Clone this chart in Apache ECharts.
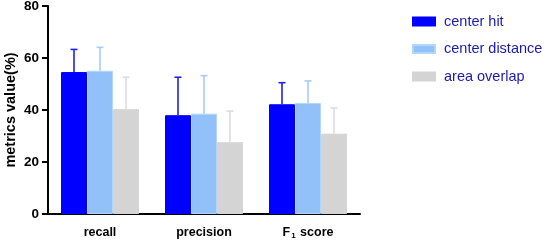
<!DOCTYPE html>
<html><head><meta charset="utf-8">
<script src="https://cdn.jsdelivr.net/npm/echarts@6/dist/echarts.min.js"></script>
<style>html,body{margin:0;padding:0;background:#fff}#c{width:546px;height:244px}</style>
</head><body><div id="c"></div>
<script>
const categories = ['recall', 'precision', 'F{sub|1} score'];
const seriesNames = ['center hit', 'center distance', 'area overlap'];
const centerHit = [54.6, 38.0, 42.2];
const centerHitSD = [8.7, 14.6, 8.3];
const centerDistance = [55.1, 38.6, 42.7];
const centerDistanceSD = [9.0, 14.6, 8.5];
const areaOverlap = [40.3, 27.6, 30.9];
const areaOverlapSD = [12.3, 12.0, 9.9];
const yTicks = [0, 20, 40, 60, 80];

const colors = ['#0000ff', '#91c1f8', '#d4d4d4'];
const errColors = ['#2020ee', '#a6ccf8', '#dddddd'];
const values = [centerHit, centerDistance, areaOverlap];
const sds = [centerHitSD, centerDistanceSD, areaOverlapSD];

const chart = echarts.init(document.getElementById('c'), null, {renderer: 'canvas'});
const barSeries = seriesNames.map((n, i) => ({
  name: n, type: 'bar', data: values[i], barGap: '0%', barCategoryGap: '25%',
  itemStyle: {color: colors[i], borderColor: i === 1 ? '#b4d6fb' : colors[i], borderWidth: 1}, z: 2
}));
const errSeries = seriesNames.map((n, i) => ({
  type: 'custom', z: 3, silent: true,
  data: values[i].map((v, k) => [k, v, v + sds[i][k]]),
  renderItem: function (params, api) {
    const band = api.size([1, 0])[0];
    const bw = band * 0.75 / 3;
    const off = (i - 1) * bw;
    const p0 = api.coord([api.value(0), api.value(1)]);
    const p1 = api.coord([api.value(0), api.value(2)]);
    const x = p0[0] + off;
    const style = {stroke: errColors[i], lineWidth: 1.6, fill: null};
    return {type: 'group', children: [
      {type: 'line', shape: {x1: x, y1: p0[1], x2: x, y2: p1[1]}, style: style},
      {type: 'line', shape: {x1: x - 3.5, y1: p1[1], x2: x + 3.5, y2: p1[1]}, style: style}
    ]};
  }
}));

chart.setOption({
  animation: false,
  grid: {left: 48, right: 186, top: 6, bottom: 30, containLabel: false, outerBoundsMode: 'none'},
  legend: {
    orient: 'vertical', left: 407, top: 9, itemWidth: 22, itemHeight: 8, itemGap: 12.5,
    icon: 'rect', data: seriesNames,
    textStyle: {color: '#1a1ab0', fontSize: 14.5, fontFamily: 'Liberation Sans, Arial', padding: [0, 0, 0, 4]}
  },
  xAxis: {
    type: 'category', data: categories,
    axisLine: {lineStyle: {color: '#000', width: 2}},
    axisTick: {alignWithLabel: true, length: 6, lineStyle: {color: '#000', width: 2}},
    axisLabel: {
      interval: 0,
      color: '#000', fontWeight: 'bold', fontSize: 12.5, fontFamily: 'Liberation Sans, Arial', margin: 12,
      rich: {sub: {fontSize: 8, fontWeight: 'bold', fontFamily: 'Liberation Sans, Arial', verticalAlign: 'bottom', padding: [6, 1, 0, 1]}}
    }
  },
  yAxis: {
    type: 'value', min: yTicks[0], max: yTicks[yTicks.length - 1], interval: 20,
    name: 'metrics value(%)', nameLocation: 'middle', nameGap: 30, nameMoveOverlap: false,
    nameTextStyle: {color: '#000', fontWeight: 'bold', fontSize: 14.5, fontFamily: 'Liberation Sans, Arial'},
    axisLine: {show: true, lineStyle: {color: '#000', width: 2}},
    axisTick: {show: true, length: 6, lineStyle: {color: '#000', width: 2}},
    splitLine: {show: false},
    axisLabel: {color: '#000', fontWeight: 'bold', fontSize: 13.5, fontFamily: 'Liberation Sans, Arial', margin: 9}
  },
  series: barSeries.concat(errSeries)
});
</script></body></html>
